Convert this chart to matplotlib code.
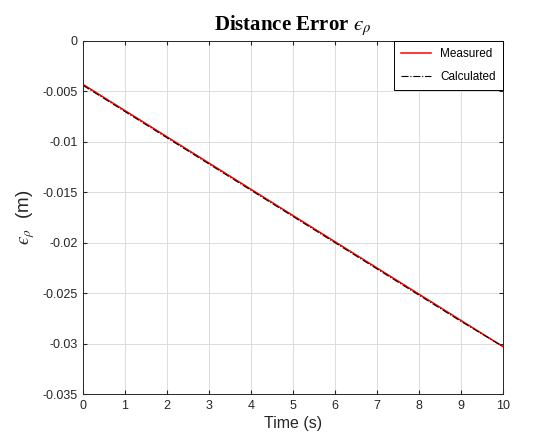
import matplotlib.pyplot as plt

# tiempo (s) y error de distancia (m)
t = [0, 1, 2, 3, 4, 5, 6, 7, 8, 9, 10]
medido = [-0.0043, -0.0069, -0.0095, -0.0121, -0.0147, -0.0173, -0.0199, -0.0225, -0.0251, -0.0277, -0.0303]
calculado = [-0.0044, -0.0070, -0.0096, -0.0122, -0.0148, -0.0174, -0.0200, -0.0226, -0.0252, -0.0278, -0.0303]

xticks = list(range(0, 11))
yticks = [0, -0.005, -0.01, -0.015, -0.02, -0.025, -0.03, -0.035]
ytick_labels = ['0', '-0.005', '-0.01', '-0.015', '-0.02', '-0.025', '-0.03', '-0.035']

plt.rcParams['font.family'] = ['Liberation Sans', 'DejaVu Sans']
plt.rcParams['mathtext.fontset'] = 'stix'

fig = plt.figure(figsize=(5.4, 4.48), dpi=100)
ax = fig.add_axes([0.1537, 0.1205, 0.7778, 0.788])

ax.plot(t, medido, color='red', lw=1.1, label='Measured')
ax.plot(t, calculado, color='black', lw=0.8, ls='-.', label='Calculated')

ax.set_xlim(0, 10)
ax.set_ylim(-0.035, 0)
ax.set_xticks(xticks)
ax.set_yticks(yticks)
ax.set_yticklabels(ytick_labels)
ax.grid(True, color='#dcdcdc', lw=0.7)
ax.tick_params(direction='in', top=True, right=True, labelsize=9, colors='#262626', length=3, pad=4)
for s in ax.spines.values():
    s.set_color('#262626')
    s.set_linewidth(0.7)

ax.set_xlabel('Time (s)', fontsize=11.5, color='#262626', labelpad=3)
ax.set_ylabel('$\u03f5_{\\rho}$  (m)', fontsize=13.5, color='#262626')
ax.set_title('Distance Error $\u03f5_{\\rho}$', fontsize=15, fontweight='bold', family='Liberation Serif', pad=8)

leg = ax.legend(loc='upper right', fontsize=8.5, fancybox=False, edgecolor='black', framealpha=1,
                borderaxespad=0, handlelength=2.5, labelspacing=0.9, borderpad=0.6)
leg.get_frame().set_linewidth(0.7)

fig.savefig('out.png', dpi=100)
